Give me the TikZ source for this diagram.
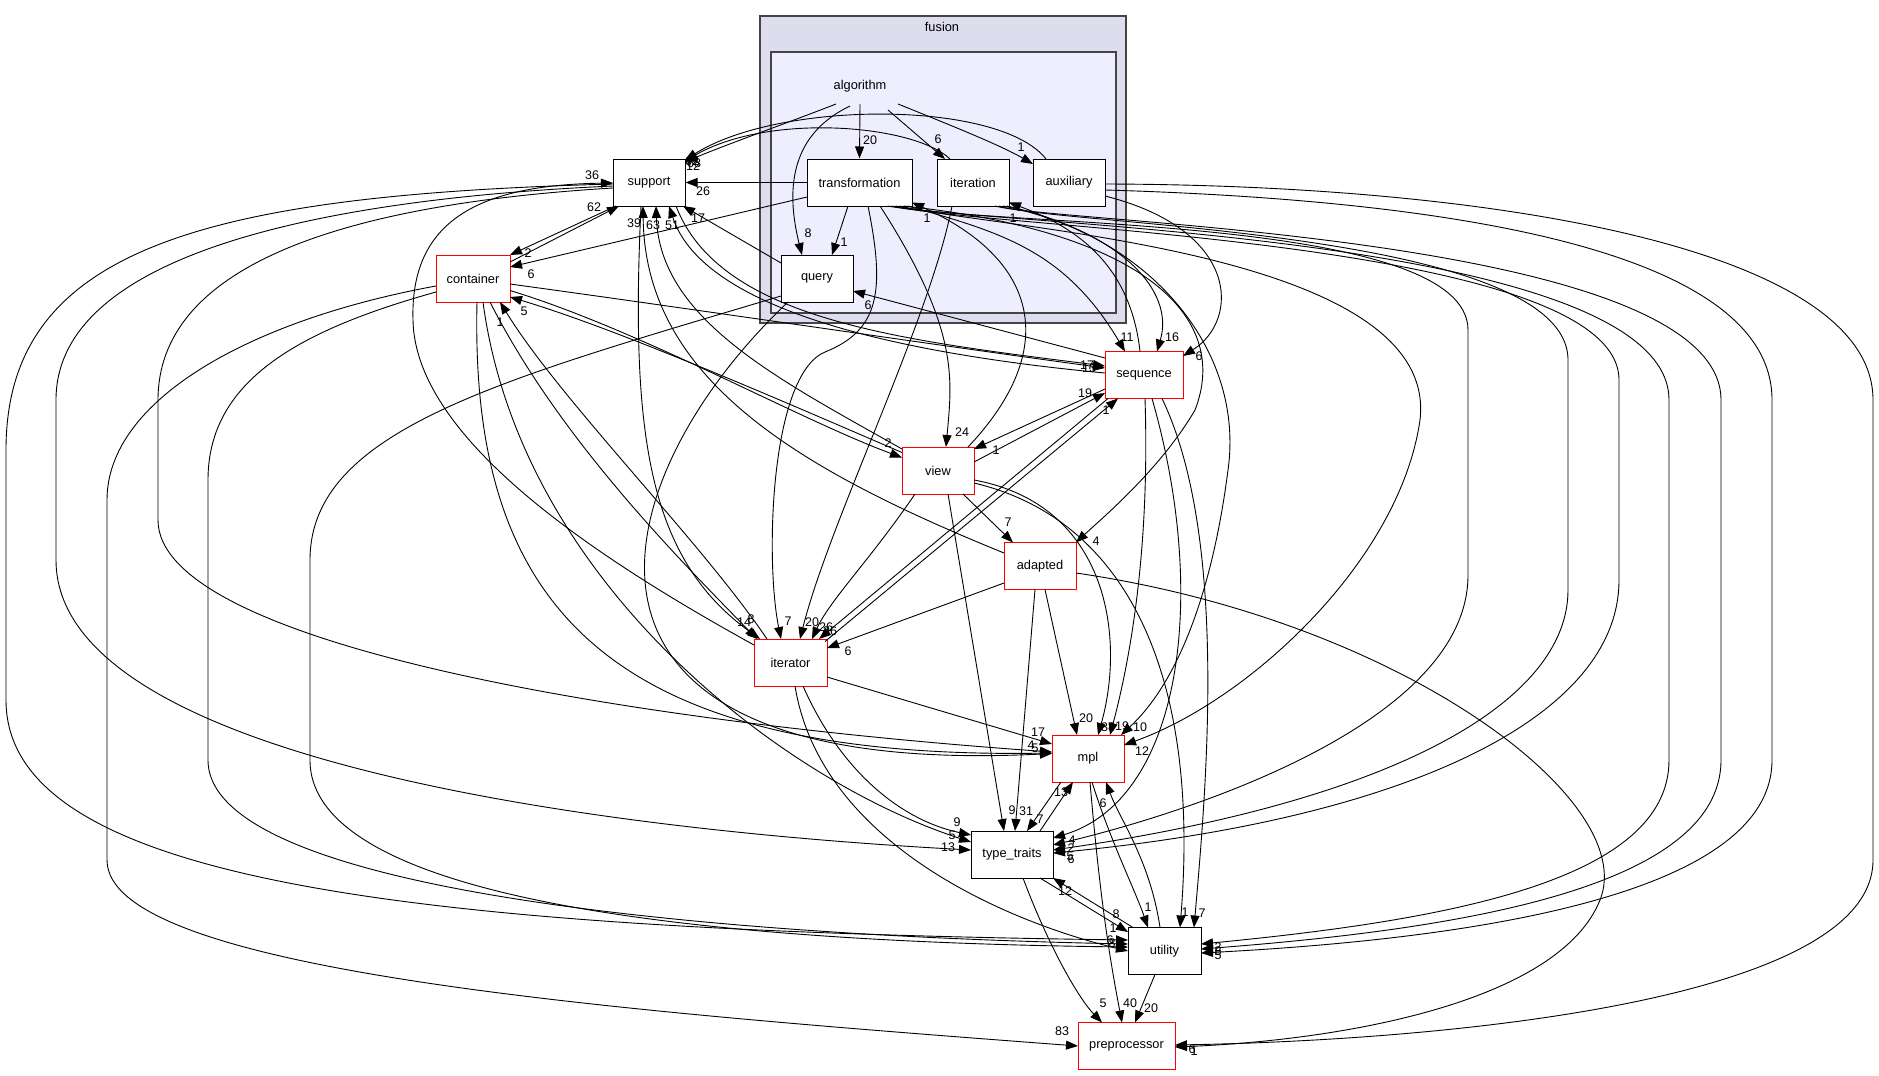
\documentclass[tikz,border=0pt]{standalone}
\usepackage{fontspec}
\setmainfont{Liberation Sans}
\usetikzlibrary{arrows.meta,calc}
\definecolor{clo}{RGB}{221,221,238}
\definecolor{cli}{RGB}{238,238,255}
\definecolor{clb}{RGB}{68,68,68}
\begin{document}
\begin{tikzpicture}[x=1pt,y=-1pt,
  bx/.style={draw=black,fill=white,line width=1pt,minimum width=72pt,minimum height=47pt,inner sep=0pt,font=\fontsize{12.8}{15}\selectfont},
  rbx/.style={bx,draw=red},
  e/.style={draw=black,line width=0.9pt,-{Triangle[length=12pt,width=9pt]}},
  lab/.style={font=\fontsize{12.5}{14}\selectfont,inner sep=0pt},
  captxt/.style={font=\fontsize{12.8}{15}\selectfont,inner sep=0pt}]
\fill[white] (0,0) rectangle (1879,1076);
\useasboundingbox (0,0) rectangle (1879,1076);
% clusters
\draw[fill=clo,draw=clb,line width=1.5pt] (760,16) rectangle (1126,323);
\draw[fill=cli,draw=clb,line width=1.5pt] (771,52) rectangle (1116,313);
\node[captxt] (fus) at (942,27) {fusion};
\node[captxt] (alg) at (860,86) {algorithm};
% nodes
\node[bx] (S) at (649,182.5) {support};
\node[bx,minimum width=105pt] (T) at (859.5,182.5) {transformation};
\node[bx] (It) at (973,182.5) {iteration};
\node[bx] (Ax) at (1069,182.5) {auxiliary};
\node[bx] (Q) at (817,278.5) {query};
\node[rbx,minimum width=74pt] (C) at (473,278.5) {container};
\node[rbx,minimum width=78pt] (Sq) at (1144,375) {sequence};
\node[rbx] (V) at (938,470.5) {view};
\node[rbx] (Ad) at (1040,566) {adapted};
\node[rbx,minimum width=73pt] (Ir) at (790.5,662.5) {iterator};
\node[rbx] (M) at (1088,758.5) {mpl};
\node[bx,minimum width=82pt] (TT) at (1012,854.5) {type\_traits};
\node[bx,minimum width=73pt] (U) at (1164.5,951) {utility};
\node[rbx,minimum width=97pt] (P) at (1126.5,1046) {preprocessor};
% algorithm edges
\draw[e] ($(alg)+(-24,18)$) .. controls (790,122) and (725,145) .. ($(S)+(36,-20.5)$) node[lab] at (694,163) {68};
\draw[e] ($(alg)+(-10,20)$) .. controls (800,130) and (782,175) .. ($(Q)+(-15,-23.5)$) node[lab] at (808,233) {8};
\draw[e] ($(alg)+(0,18)$) -- (T.north) node[lab] at (870,140) {20};
\draw[e] ($(alg)+(28,24)$) -- ($(It)+(-28,-23.5)$) node[lab] at (938,139) {6};
\draw[e] ($(alg)+(38,18)$) .. controls (950,125) and (1000,145) .. ($(Ax)+(-36,-18.5)$) node[lab] at (1021,147) {1};
% into support
\draw[e] ($(It)+(-23,-23.5)$) .. controls (915,125) and (770,112) .. ($(S)+(36,-21.5)$) node[lab] at (692,161) {62};
\draw[e] ($(Ax)+(-23,-23.5)$) .. controls (1000,100) and (780,100) .. ($(S)+(36,-22.5)$) node[lab] at (693,166) {12};
\draw[e] (T.west) -- (S.east) node[lab] at (703,191) {26};
\draw[e] ($(T)+(-11.5,23.5)$) -- ($(Q)+(15,-23.5)$) node[lab] at (844,242) {1};
\draw[e] ($(T)+(-52.5,14.5)$) -- ($(C)+(37,-11.5)$) node[lab] at (531,274) {6};
\draw[e] ($(S)+(-33,23.5)$) -- ($(C)+(37,-23.5)$) node[lab] at (528,253) {2};
\draw[e] ($(C)+(37,-16.5)$) -- ($(S)+(-30,23.5)$) node[lab] at (594,207) {62};
\draw[e] ($(Q)+(-36,-15.5)$) -- ($(S)+(34,23.5)$) node[lab] at (698,218) {17};
\draw[e] ($(Ad)+(-36,-13)$) .. controls (800,470) and (645,380) .. ($(S)+(-6,23.5)$) node[lab] at (634,223) {39};
\draw[e] ($(V)+(-36,-21.5)$) .. controls (780,380) and (660,320) .. ($(S)+(7,23.5)$) node[lab] at (653,225) {63};
\draw[e] ($(Sq)+(-39,-2)$) .. controls (860,350) and (700,300) .. ($(S)+(20,23.5)$) node[lab] at (672,225) {51};
\draw[e] ($(S)+(27,23.5)$) .. controls (720,320) and (900,340) .. ($(Sq)+(-39,-9)$) node[lab] at (1087,365) {17};
\draw[e] ($(C)+(37,5.5)$) .. controls (700,310) and (900,340) .. ($(Sq)+(-39,-7)$) node[lab] at (1089,368) {13};
\draw[e] ($(Sq)+(-39,-17)$) -- ($(Q)+(36,12.5)$) node[lab] at (868,305) {6};
\draw[e] ($(V)+(-36,-18)$) .. controls (780,400) and (620,330) .. ($(C)+(37,18.5)$) node[lab] at (524,311) {5};
\draw[e] ($(C)+(37,12)$) .. controls (640,330) and (800,420) .. ($(V)+(-36,-13)$) node[lab] at (888,443) {2};
% container / iterator
\draw[e] ($(Ir)+(-23.5,-23.5)$) .. controls (700,540) and (560,400) .. ($(C)+(27,23.5)$) node[lab] at (500,322) {1};
\draw[e] ($(C)+(17,23.5)$) .. controls (560,440) and (680,560) .. ($(Ir)+(-33.5,-23.5)$) node[lab] at (744,622) {14};
\draw[e] ($(S)+(-8,23.5)$) .. controls (630,440) and (650,560) .. ($(Ir)+(-30.5,-23.5)$) node[lab] at (751,619) {8};
\draw[e] ($(Ir)+(-36.5,-17.5)$) .. controls (600,560) and (415,440) .. (413,320) .. controls (410,220) and (480,185) .. ($(S)+(-36,0.5)$) node[lab] at (592,175) {36};
\draw[e] ($(T)+(8.5,23.5)$) .. controls (885,290) and (880,330) .. (825,352) .. controls (770,375) and (765,560) .. ($(Ir)+(-9.5,-23.5)$) node[lab] at (788,621) {7};
\draw[e] ($(It)+(-21,23.5)$) .. controls (930,320) and (830,520) .. ($(Ir)+(9.5,-23.5)$) node[lab] at (812,622) {20};
\draw[e] ($(V)+(-23,23.5)$) .. controls (870,560) and (830,600) .. ($(Ir)+(21.5,-23.5)$) node[lab] at (826,627) {26};
\draw[e] ($(Sq)+(-36,23.5)$) -- ($(Ir)+(28.5,-23.5)$) node[lab] at (830,631) {36};
\draw[e] ($(Ir)+(34.5,-21)$) -- ($(Sq)+(-26,23.5)$) node[lab] at (1106,410) {1};
\draw[e] ($(V)+(36,-8.5)$) -- ($(Sq)+(-39,18)$) node[lab] at (1085,393) {19};
\draw[e] ($(Sq)+(-39,14)$) -- ($(V)+(36,-21.5)$) node[lab] at (996,450) {1};
\draw[e] ($(Ad)+(-36,17)$) -- ($(Ir)+(36.5,-14.5)$) node[lab] at (848,651) {6};
\draw[e] ($(V)+(25,23.5)$) -- ($(Ad)+(-27,-23.5)$) node[lab] at (1008,522) {7};
% transformation / iteration / auxiliary to fusion dirs
\draw[e] ($(T)+(20.5,23.5)$) .. controls (960,330) and (952,380) .. ($(V)+(8,-23.5)$) node[lab] at (962,432) {24};
\draw[e] ($(V)+(30,-23.5)$) .. controls (1060,350) and (1040,260) .. ($(T)+(52.5,20)$) node[lab] at (927,218) {1};
\draw[e] ($(Sq)+(-4,-23.5)$) .. controls (1130,260) and (1070,225) .. ($(It)+(36,20)$) node[lab] at (1013,218) {1};
\draw[e] ($(T)+(48,23.5)$) .. controls (1000,232) and (1065,250) .. ($(Sq)+(-19,-23.5)$) node[lab] at (1127,337) {11};
\draw[e] ($(It)+(34,23.5)$) .. controls (1120,232) and (1175,290) .. ($(Sq)+(13,-23.5)$) node[lab] at (1172,337) {16};
\draw[e] ($(Ax)+(36,13.5)$) .. controls (1240,230) and (1240,320) .. ($(Sq)+(39,-19)$) node[lab] at (1199,356) {6};
\draw[e] ($(T)+(44,23.5)$) .. controls (1150,232) and (1230,320) .. (1195,410) .. controls (1160,470) and (1100,520) .. ($(Ad)+(36,-23.5)$) node[lab] at (1096,541) {4};
\draw[e] ($(T)+(40,23.5)$) .. controls (1000,230) and (1440,250) .. (1420,420) .. controls (1400,560) and (1250,700) .. ($(M)+(36,-13.5)$) node[lab] at (1142,751) {12};
\draw[e] ($(It)+(30,23.5)$) .. controls (1150,235) and (1245,350) .. (1228,470) .. controls (1210,610) and (1170,690) .. ($(M)+(33,-23.5)$) node[lab] at (1140,727) {10};
% into mpl
\draw[e] ($(Sq)+(1,23.5)$) .. controls (1150,550) and (1130,660) .. ($(M)+(22,-23.5)$) node[lab] at (1122,726) {19};
\draw[e] ($(V)+(36,9.5)$) .. controls (1110,505) and (1125,640) .. ($(M)+(10,-23.5)$) node[lab] at (1108,727) {38};
\draw[e] ($(Ad)+(5,23.5)$) -- ($(M)+(-11,-23.5)$) node[lab] at (1086,718) {20};
\draw[e] ($(Ir)+(36.5,14.5)$) -- ($(M)+(-36,-14.5)$) node[lab] at (1038,732) {17};
\draw[e] ($(S)+(-36,5.5)$) .. controls (330,205) and (158,270) .. (158,400) -- (158,520) .. controls (158,640) and (600,720) .. ($(M)+(-36,-6.5)$) node[lab] at (1031,745) {4};
\draw[e] ($(Q)+(-29,23.5)$) .. controls (600,480) and (520,780) .. ($(M)+(-36,-5)$) node[lab] at (1035,748) {5};
\draw[e] ($(C)+(4,23.5)$) .. controls (470,600) and (600,760) .. ($(M)+(-36,-5.5)$);
% into type_traits
\draw[e] ($(S)+(-36,3.5)$) .. controls (300,200) and (56,260) .. (56,400) -- (56,560) .. controls (56,760) and (600,830) .. ($(TT)+(-41,-4.5)$) node[lab] at (948,847) {13};
\draw[e] ($(C)+(10,23.5)$) .. controls (520,580) and (780,780) .. ($(TT)+(-41,-12.5)$) node[lab] at (952,835) {5};
\draw[e] ($(Ir)+(12.5,23.5)$) .. controls (840,770) and (900,820) .. ($(TT)+(-41,-19.5)$) node[lab] at (957,822) {9};
\draw[e] ($(V)+(10,23.5)$) -- ($(TT)+(-8,-23.5)$) node[lab] at (1012,810) {9};
\draw[e] ($(Ad)+(-5,23.5)$) -- ($(TT)+(3,-23.5)$) node[lab] at (1026,811) {31};
\draw[e] ($(Sq)+(8,23.5)$) .. controls (1210,600) and (1180,800) .. ($(TT)+(41,-16.5)$) node[lab] at (1072,840) {4};
% into utility
\draw[e] ($(S)+(-36,1.5)$) .. controls (200,195) and (6,250) .. (6,450) -- (6,700) .. controls (6,880) and (400,930) .. ($(U)+(-36.5,-11)$) node[lab] at (1113,928) {1};
\draw[e] ($(C)+(-37,13.5)$) .. controls (300,330) and (208,380) .. (208,480) -- (208,760) .. controls (208,890) and (700,935) .. ($(U)+(-36.5,-7)$) node[lab] at (1110,940) {6};
\draw[e] ($(Q)+(-36,17.5)$) .. controls (500,380) and (310,430) .. (310,560) -- (310,760) .. controls (310,900) and (700,942) .. ($(U)+(-36.5,-4)$) node[lab] at (1112,943) {8};
\draw[e] ($(Ir)+(4.5,23.5)$) .. controls (820,840) and (1000,920) .. ($(U)+(-36.5,0)$);
\draw[e] ($(V)+(36,12.5)$) .. controls (1130,520) and (1200,680) .. ($(U)+(15.5,-23.5)$) node[lab] at (1185,912) {1};
\draw[e] ($(Sq)+(18,23.5)$) .. controls (1230,540) and (1205,800) .. ($(U)+(29.5,-23.5)$) node[lab] at (1202,913) {7};
% into preprocessor
\draw[e] ($(C)+(-37,7.5)$) .. controls (250,320) and (107,400) .. (107,500) -- (107,860) .. controls (107,970) and (600,1010) .. ($(P)+(-48.5,0)$) node[lab] at (1062,1031) {83};
% bottom cluster
\draw[e] ($(TT)+(28,23.5)$) -- ($(U)+(-36.5,-19)$) node[lab] at (1116,914) {8};
\draw[e] ($(U)+(-31.5,-23.5)$) -- ($(TT)+(41,23.5)$) node[lab] at (1065,891) {12};
\draw[e] ($(M)+(-27,23.5)$) -- ($(TT)+(15,-23.5)$) node[lab] at (1040,819) {7};
\draw[e] ($(TT)+(28,-23.5)$) -- ($(M)+(-15,23.5)$) node[lab] at (1061,792) {13};
\draw[e] ($(M)+(4,23.5)$) .. controls (1110,840) and (1135,890) .. ($(U)+(-16.5,-23.5)$) node[lab] at (1148,907) {1};
\draw[e] ($(U)+(-4.5,-23.5)$) .. controls (1150,860) and (1120,820) .. ($(M)+(18,23.5)$) node[lab] at (1103,803) {6};
\draw[e] ($(TT)+(11,23.5)$) .. controls (1050,950) and (1080,1000) .. ($(P)+(-24.5,-23.5)$) node[lab] at (1103,1003) {5};
\draw[e] ($(M)+(2,23.5)$) .. controls (1100,900) and (1110,960) .. ($(P)+(-4.5,-23.5)$) node[lab] at (1130,1003) {40};
\draw[e] ($(U)+(-9.5,23.5)$) -- ($(P)+(8.5,-23.5)$) node[lab] at (1151,1008) {20};
% far right loops
\draw[e] ($(T)+(36,23.5)$) .. controls (1000,228) and (1468,215) .. (1468,330) -- (1468,575) .. controls (1468,720) and (1200,810) .. ($(TT)+(41,-9.5)$) node[lab] at (1071,848) {2};
\draw[e] ($(It)+(26,23.5)$) .. controls (1060,226) and (1568,230) .. (1568,360) -- (1568,590) .. controls (1568,700) and (1400,800) .. ($(TT)+(41,-4.5)$) node[lab] at (1070,856) {5};
\draw[e] ($(T)+(32,23.5)$) .. controls (1000,230) and (1619,240) .. (1619,380) -- (1619,580) .. controls (1619,720) and (1400,820) .. ($(TT)+(41,-1.5)$) node[lab] at (1071,859) {6};
\draw[e] ($(T)+(28,23.5)$) .. controls (1000,226) and (1669,235) .. (1669,400) -- (1669,760) .. controls (1669,880) and (1450,920) .. ($(U)+(36.5,-7)$) node[lab] at (1218,947) {2};
\draw[e] ($(It)+(22,23.5)$) .. controls (1060,224) and (1721,235) .. (1721,400) -- (1721,760) .. controls (1721,890) and (1450,930) .. ($(U)+(36.5,-2)$) node[lab] at (1218,951) {8};
\draw[e] ($(Ax)+(36,7.5)$) .. controls (1450,200) and (1772,250) .. (1772,400) -- (1772,760) .. controls (1772,900) and (1450,940) .. ($(U)+(36.5,2)$) node[lab] at (1218,955) {5};
\draw[e] ($(Ax)+(36,1.5)$) .. controls (1500,185) and (1873,250) .. (1873,400) -- (1873,860) .. controls (1873,1000) and (1450,1040) .. ($(P)+(48.5,-1)$) node[lab] at (1192,1049) {6};
\draw[e] ($(Ad)+(36,7)$) .. controls (1400,620) and (1640,800) .. (1600,900) .. controls (1560,1000) and (1350,1040) .. ($(P)+(48.5,1)$) node[lab] at (1194,1051) {1};
\end{tikzpicture}
\end{document}
